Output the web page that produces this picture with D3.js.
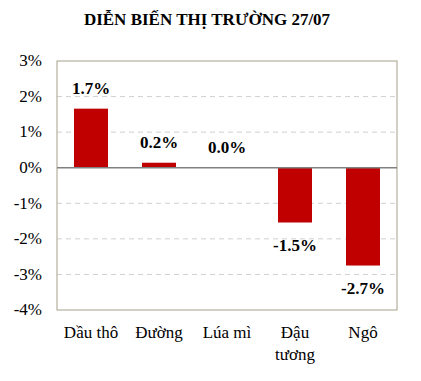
<!DOCTYPE html>
<html><head><meta charset="utf-8">
<script src="https://cdn.jsdelivr.net/npm/d3@7"></script>
<style>
body{margin:0;background:#fff}
#wrap{position:relative;width:421px;height:381px}
svg{display:block;position:absolute;left:0;top:0}
.lbl{position:absolute;white-space:nowrap;font-family:'Liberation Serif',serif;color:#000;line-height:20px;height:20px}
</style>
</head><body>
<div id="wrap"></div>
<script>
const title = "DIỄN BIẾN THỊ TRƯỜNG 27/07";
const categories = ["Dầu thô", "Đường", "Lúa mì", "Đậu tương", "Ngô"];
const categoryLines = [["Dầu thô"], ["Đường"], ["Lúa mì"], ["Đậu", "tương"], ["Ngô"]];
const values = [1.66, 0.14, 0.0, -1.54, -2.75];
const valueLabels = ["1.7%", "0.2%", "0.0%", "-1.5%", "-2.7%"];
const yTicks = [3, 2, 1, 0, -1, -2, -3, -4];

const W = 421, H = 381;
const m = {left: 57, right: 24, top: 61, bottom: 71};
const wrap = d3.select("#wrap");
const svg = wrap.append("svg").attr("width", W).attr("height", H);

// HTML text label placed by baseline
function label(txt, x, baseline, size, bold, anchor) {
  const asc = 0.891 * size, cont = 1.107 * size;
  const top = baseline - ((20 - cont) / 2 + asc);
  const tx = anchor === "middle" ? "-50%" : anchor === "end" ? "-100%" : "0";
  wrap.append("div").attr("class", "lbl")
    .style("left", x + "px").style("top", top + "px")
    .style("font-size", size + "px").style("font-weight", bold ? "bold" : "normal")
    .style("transform", `translateX(${tx})`).text(txt);
}

label(title, 207, 26, 17, true, "middle");

const x = d3.scaleBand().domain(categories).range([m.left, W - m.right]).paddingInner(0.5).paddingOuter(0.25);
const y = d3.scaleLinear().domain([-4, 3]).range([H - m.bottom, m.top]);

// gridlines
svg.append("g").selectAll("line").data(yTicks.filter(t => t !== 0 && t !== 3 && t !== -4)).join("line")
  .attr("x1", m.left).attr("x2", W - m.right)
  .attr("y1", d => y(d)).attr("y2", d => y(d))
  .attr("stroke", "#d0d0d0").attr("stroke-width", 1).attr("stroke-dasharray", "5,4");

// border
svg.append("rect").attr("x", m.left).attr("y", y(3)).attr("width", W - m.right - m.left)
  .attr("height", y(-4) - y(3)).attr("fill", "none").attr("stroke", "#a69f8c").attr("stroke-width", 1);

// y tick labels (from scale)
yTicks.forEach(t => label(t + "%", m.left - 15, y(t) + 6, 17, false, "end"));

// bars
svg.append("g").selectAll("rect").data(values).join("rect")
  .attr("x", (d, i) => x(categories[i])).attr("width", x.bandwidth())
  .attr("y", d => y(Math.max(0, d))).attr("height", d => Math.abs(y(d) - y(0)))
  .attr("fill", "#c00000");

// zero line
svg.append("line").attr("x1", m.left).attr("x2", W - m.right).attr("y1", y(0)).attr("y2", y(0))
  .attr("stroke", "#808080").attr("stroke-width", 1.5);

// value labels
values.forEach((d, i) => label(valueLabels[i], x(categories[i]) + x.bandwidth() / 2,
  d >= 0 ? y(d) - 14 : y(d) + 29, 17, true, "middle"));

// category labels
categoryLines.forEach((lines, i) => lines.forEach((l, j) =>
  label(l, x(categories[i]) + x.bandwidth() / 2, 339 + j * 22, 17, false, "middle")));
</script>
</body></html>
